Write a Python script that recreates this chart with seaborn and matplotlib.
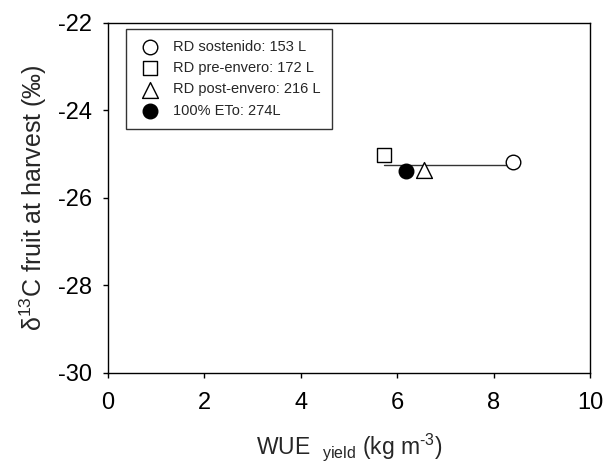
import matplotlib
matplotlib.use("Agg")
import matplotlib.pyplot as plt
import seaborn as sns

# data
treatments = ["RD sostenido: 153 L", "RD pre-envero: 172 L", "RD post-envero: 216 L", "100% ETo: 274L"]
wue = [8.40, 5.73, 6.56, 6.18]
d13c = [-25.17, -25.02, -25.36, -25.38]
markers = ["o", "s", "^", "o"]
faces = ["white", "white", "white", "black"]
sizes = [110, 105, 130, 110]

# regression line
fit_x = [5.73, 8.40]
fit_y = [-25.24, -25.24]

sns.set_style("ticks")
plt.rcParams['font.family'] = ['Liberation Sans', 'DejaVu Sans']
plt.rcParams['mathtext.fontset'] = 'custom'
plt.rcParams['mathtext.rm'] = 'Liberation Sans'
plt.rcParams['axes.unicode_minus'] = False

fig, ax = plt.subplots(figsize=(6.06, 4.68), dpi=100)
fig.subplots_adjust(left=0.178, right=0.974, top=0.951, bottom=0.203)

sns.lineplot(x=fit_x, y=fit_y, color="#333333", linewidth=1.0, ax=ax, legend=False)

for i in range(len(treatments)):
    sns.scatterplot(x=[wue[i]], y=[d13c[i]], marker=markers[i], s=sizes[i],
                    facecolor=faces[i], edgecolor="black", linewidth=1.0,
                    label=treatments[i], ax=ax, zorder=3)

ax.set_xlim(0, 10)
ax.set_ylim(-30, -22)
ax.set_xticks([0, 2, 4, 6, 8, 10])
ax.set_yticks([-30, -28, -26, -24, -22])
ax.tick_params(axis="both", labelsize=17, direction="out", length=3.5, width=1, colors="black")
ax.tick_params(axis="x", pad=10)
ax.tick_params(axis="y", pad=8)
for s in ax.spines.values():
    s.set_color("black")
    s.set_linewidth(1.0)

ax.set_xlabel("WUE  $_{\\mathregular{yield}}$ (kg m$^{\\mathregular{\u20103}}$)", fontsize=16.5, labelpad=13)
ax.set_ylabel(r"δ$^{\mathregular{13}}$C fruit at harvest (‰)", fontsize=18, labelpad=6)

leg = ax.legend(loc="upper left", bbox_to_anchor=(0.037, 0.983), fontsize=10.5, frameon=True,
                fancybox=False, edgecolor="black", handletextpad=0.7, borderpad=0.75,
                labelspacing=0.5, borderaxespad=0, handlelength=1.8)
leg.get_frame().set_linewidth(1.0)

fig.savefig("out.png", dpi=100)
